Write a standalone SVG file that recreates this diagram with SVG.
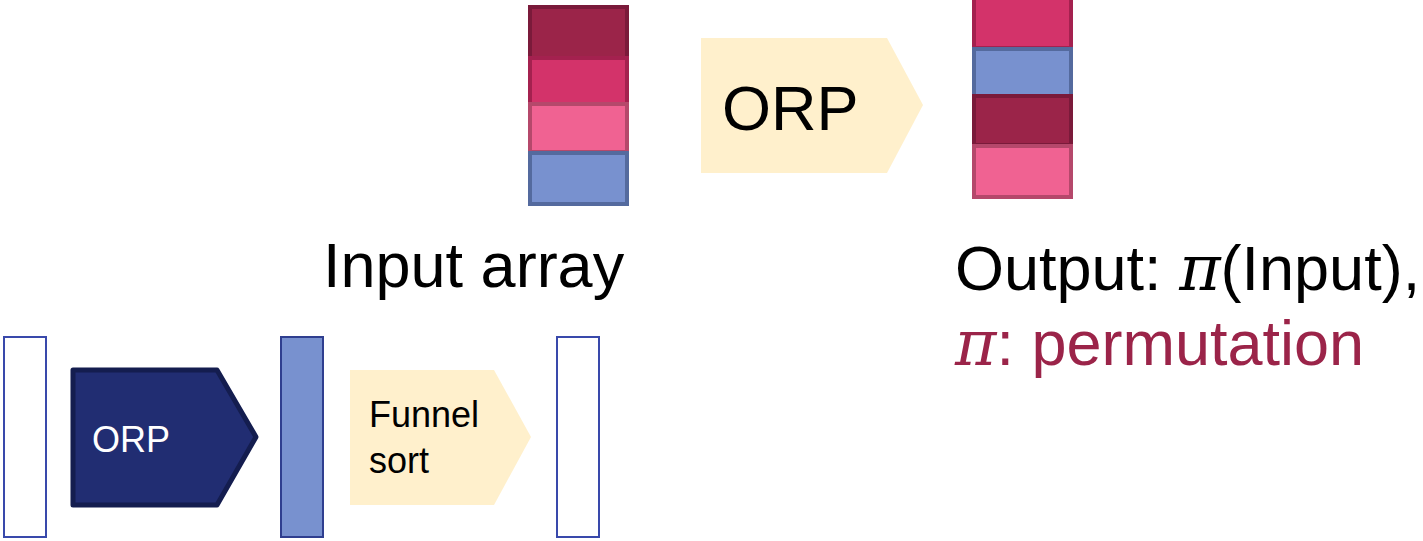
<svg xmlns="http://www.w3.org/2000/svg" width="1423" height="541" viewBox="0 0 1423 541">
<style>
.t{font-family:"Liberation Sans",Arial,sans-serif}
.pi{font-family:"DejaVu Serif","Liberation Serif",serif;font-style:italic}
.c1{fill:#9b2449;stroke:#7a1a3a;stroke-width:4}
.c2{fill:#d3336a;stroke:#a4214f;stroke-width:4}
.c3{fill:#f06292;stroke:#b5486b;stroke-width:4}
.c4{fill:#7891cf;stroke:#546a9e;stroke-width:4}
.arr{fill:#fff0cc}
.box{fill:#fff;stroke:#3949ab;stroke-width:2}
</style>
<g id="input-array">
<rect class="c1" x="530" y="7" width="97" height="51"/>
<rect class="c2" x="530" y="58" width="97" height="46"/>
<rect class="c3" x="530" y="104" width="97" height="48"/>
<rect class="c4" x="530" y="153" width="97" height="51"/>
</g>
<g id="output-array">
<rect class="c2" x="974" y="-2" width="97" height="50"/>
<rect class="c4" x="974" y="49" width="97" height="47"/>
<rect class="c1" x="974" y="96" width="97" height="49"/>
<rect class="c3" x="974" y="146" width="97" height="51"/>
</g>
<g id="orp-top">
<polygon class="arr" points="701,38 887,38 923,105 887,173 701,173"/>
<text class="t" x="722" y="130" font-size="63">ORP</text>
</g>
<g id="labels">
<text class="t" x="323" y="287" font-size="63">Input array</text>
<text x="955" y="290" font-size="63"><tspan class="t">Output: </tspan><tspan class="pi">π</tspan><tspan class="t">(Input),</tspan></text>
<text x="955" y="365" font-size="63" fill="#9b2449"><tspan class="pi">π</tspan><tspan class="t">: permutation</tspan></text>
</g>
<g id="box-in">
<rect class="box" x="4" y="337" width="42" height="200"/>
</g>
<g id="orp-bottom">
<polygon points="73,370 217,370 256,437 217,505 73,505" fill="#212d72" stroke="#141d4f" stroke-width="5" stroke-linejoin="round"/>
<text class="t" x="92" y="452" font-size="36" fill="#fff">ORP</text>
</g>
<g id="box-mid">
<rect x="281" y="337" width="42" height="200" fill="#7891cf" stroke="#2f3e8f" stroke-width="2"/>
</g>
<g id="funnel-sort">
<polygon class="arr" points="350,370 494,370 531,437 494,505 350,505"/>
<text class="t" x="369" y="427" font-size="36">Funnel</text>
<text class="t" x="369" y="473" font-size="36">sort</text>
</g>
<g id="box-out">
<rect class="box" x="557" y="337" width="42" height="200"/>
</g>
<g id="connectors"/>
</svg>
